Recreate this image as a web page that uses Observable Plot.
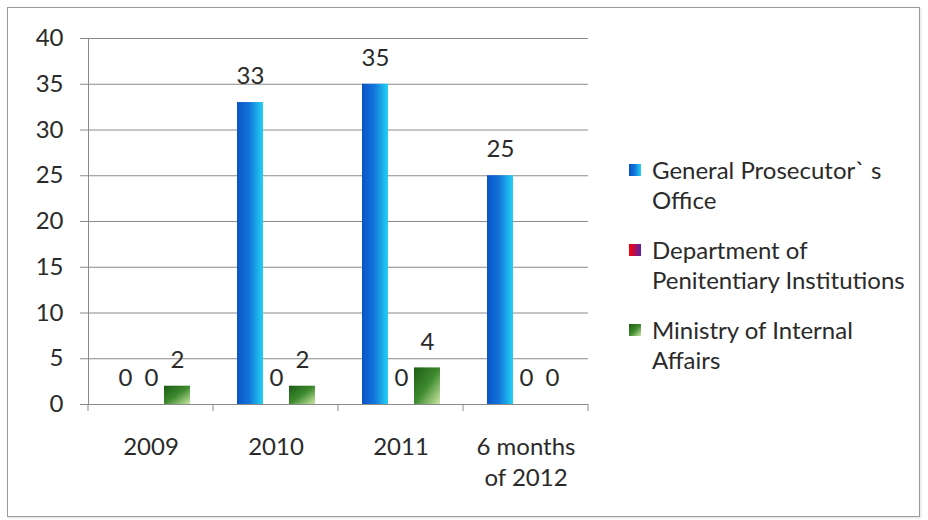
<!DOCTYPE html>
<html><head><meta charset="utf-8">
<script src="https://cdn.jsdelivr.net/npm/d3@7"></script>
<script src="https://cdn.jsdelivr.net/npm/@observablehq/plot@0.6"></script>
<style>
body{margin:0;background:#fff;}
#wrap{position:relative;width:928px;height:520px;font-family:Lato,sans-serif;background:#fff;}
#border{position:absolute;left:7px;top:7px;width:913px;height:510px;border:1px solid #9a9a9a;box-sizing:border-box;box-shadow:1px 1px 2px rgba(0,0,0,.12);}
#chart{position:absolute;left:0;top:0;}
#legend{position:absolute;left:629px;top:155px;}
.item{display:flex;align-items:flex-start;margin-bottom:20px;}
.sw{width:12px;height:12px;margin-top:9px;margin-right:11px;flex:none;}
.lab{white-space:pre-line;font-size:24px;line-height:30px;color:#2a2a2a;}
</style></head>
<body>
<div id="wrap"><div id="border"></div><div id="chart"></div><div id="legend"></div></div>
<script>
const categories = ["2009", "2010", "2011", "6 months of 2012"];
const categoryLabels = ["2009", "2010", "2011", "6 months\nof 2012"];
const seriesNames = ["General Prosecutor` s Office", "Department of Penitentiary Institutions", "Ministry of Internal Affairs"];
const legendLabels = ["General Prosecutor` s\nOffice", "Department of\nPenitentiary Institutions", "Ministry of Internal\nAffairs"];
const generalProsecutor = [0, 33, 35, 25];
const penitentiary = [0, 0, 0, 0];
const internalAffairs = [2, 2, 4, 0];
const yTicks = [0, 5, 10, 15, 20, 25, 30, 35, 40];

const seriesValues = [generalProsecutor, penitentiary, internalAffairs];
const gradIds = ["g-gpo", "g-dpi", "g-mia"];
const rows = [];
seriesNames.forEach((s, si) => categories.forEach((c, ci) => rows.push({category: c, series: s, value: seriesValues[si][ci]})));

const plot = Plot.plot({
  width: 928, height: 520,
  marginLeft: 88, marginRight: 340, marginTop: 38, marginBottom: 116,
  style: {fontFamily: "Lato, sans-serif", fontSize: "24px", color: "#2a2a2a", background: "transparent"},
  fx: {domain: categories, padding: 0, label: null},
  x: {domain: seriesNames, paddingInner: 0, paddingOuter: 0.815, axis: null},
  y: {domain: [0, 40], label: null},
  marks: [
    Plot.gridY(yTicks, {stroke: "#8a8a8a", strokeOpacity: 1}),
    Plot.axisY(yTicks, {tickSize: 8, tickPadding: 17, stroke: "#8a8a8a", fill: "#2a2a2a", fontSize: 24, label: null}),
    Plot.frame({anchor: "left", facetAnchor: "left", stroke: "#8a8a8a"}),
    Plot.axisFx({anchor: "bottom", tickSize: 0, tickPadding: 28, fontSize: 24, lineHeight: 1.3, label: null,
      fill: "#2a2a2a", tickFormat: d => categoryLabels[categories.indexOf(d)]}),
    ...seriesNames.map((s, i) => Plot.barY(rows.filter(r => r.series === s), {fx: "category", x: "series", y: "value", fill: `url(#${gradIds[i]})`})),
    Plot.ruleY([0], {stroke: "#8a8a8a"}),
    Plot.text(rows, {fx: "category", x: "series", y: "value", text: d => String(d.value), dy: -26, fontSize: 24, fill: "#2a2a2a"})
  ]
});

const svg = d3.select(plot);
const defs = svg.insert("defs", ":first-child");
function grad(id, stops, x2, y2) {
  const g = defs.append("linearGradient").attr("id", id).attr("x1", 0).attr("y1", 0).attr("x2", x2).attr("y2", y2);
  stops.forEach(([o, c]) => g.append("stop").attr("offset", o).attr("stop-color", c));
}
grad("g-gpo", [["0%", "#0a55c6"], ["45%", "#1272da"], ["100%", "#22d2f3"]], 1, 0);
grad("g-dpi", [["0%", "#ff0000"], ["100%", "#5a1fa8"]], 1, 0);
grad("g-mia", [["0%", "#1d5c15"], ["50%", "#3e8a2e"], ["100%", "#cbe8a4"]], 1, 1);

// category boundary ticks on the x axis, from Plot's own scales
const fx = plot.scale("fx"), y = plot.scale("y");
const y0 = y.apply(0);
const bounds = categories.map(c => fx.apply(c)).concat([fx.apply(categories[categories.length - 1]) + fx.bandwidth]);
svg.append("g").selectAll("line").data(bounds).join("line")
  .attr("x1", d => d).attr("x2", d => d).attr("y1", y0).attr("y2", y0 + 7)
  .attr("stroke", "#8a8a8a");

document.getElementById("chart").appendChild(plot);

const legend = d3.select("#legend");
seriesNames.forEach((s, i) => {
  const item = legend.append("div").attr("class", "item");
  const sw = item.append("svg").attr("class", "sw").attr("width", 12).attr("height", 12);
  sw.append("rect").attr("width", 12).attr("height", 12).attr("fill", `url(#${gradIds[i]})`);
  item.append("div").attr("class", "lab").text(legendLabels[i]);
});
</script>
</body></html>
